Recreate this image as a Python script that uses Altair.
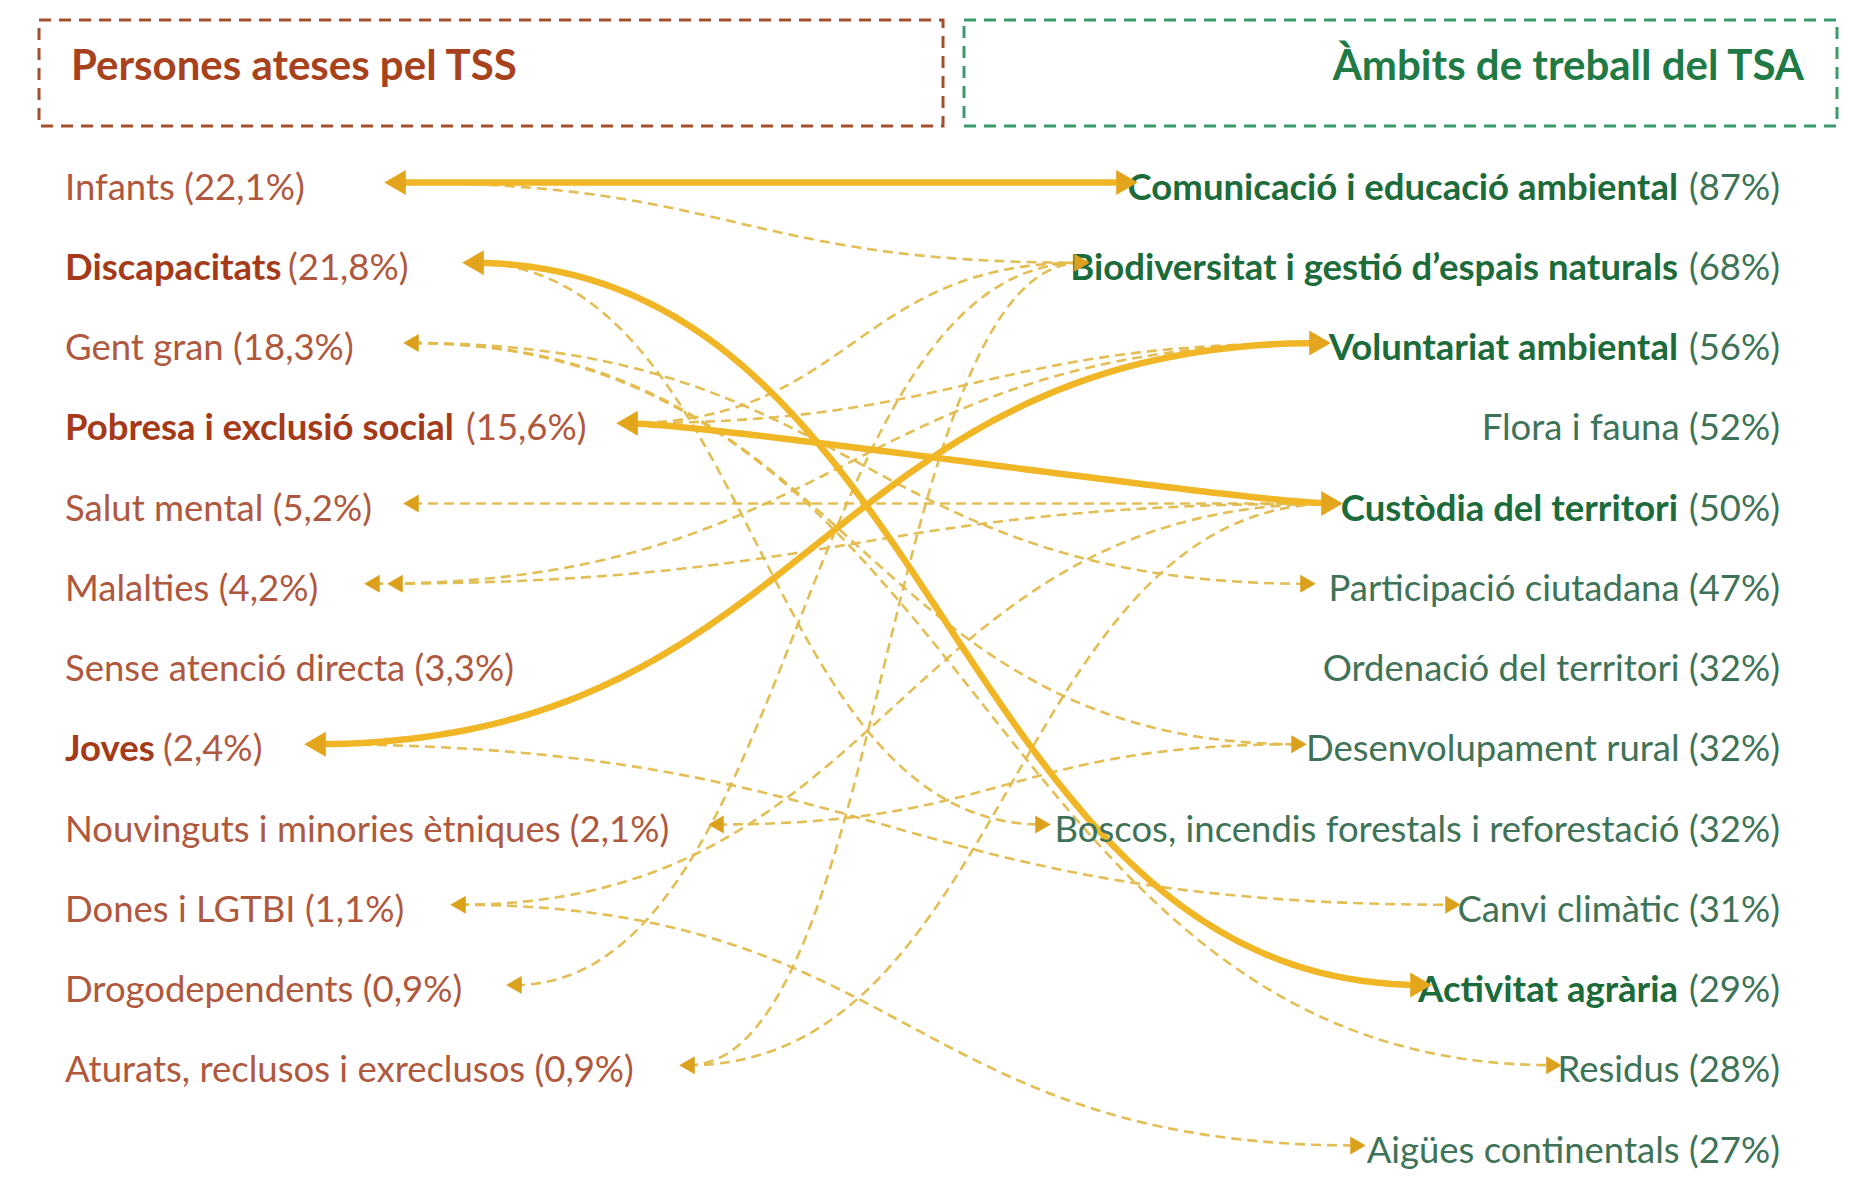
import altair as alt
import pandas as pd
import numpy as np

# ---------------- data ----------------
left_names = ["Infants", "Discapacitats", "Gent gran", "Pobresa i exclusió social",
              "Salut mental", "Malalties", "Sense atenció directa", "Joves",
              "Nouvinguts i minories ètniques", "Dones i LGTBI", "Drogodependents",
              "Aturats, reclusos i exreclusos"]
left_pct = ["22,1", "21,8", "18,3", "15,6", "5,2", "4,2", "3,3", "2,4", "2,1", "1,1", "0,9", "0,9"]
left_bold = [False, True, False, True, False, False, False, True, False, False, False, False]

right_names = ["Comunicació i educació ambiental", "Biodiversitat i gestió d’espais naturals",
               "Voluntariat ambiental", "Flora i fauna", "Custòdia del territori",
               "Participació ciutadana", "Ordenació del territori", "Desenvolupament rural",
               "Boscos, incendis forestals i reforestació", "Canvi climàtic",
               "Activitat agrària", "Residus", "Aigües continentals"]
right_pct = [87, 68, 56, 52, 50, 47, 32, 32, 32, 31, 29, 28, 27]
right_bold = [True, True, True, False, True, False, False, False, False, False, True, False, False]

# links: (left index, right index)
solid_links = [(0, 0), (1, 10), (3, 4), (7, 2)]
dashed_links = [(0, 1), (1, 8), (2, 5), (2, 7), (2, 11), (3, 1), (3, 2), (4, 4),
                (5, 4), (5, 2), (7, 2), (7, 9), (8, 7), (9, 4), (9, 12),
                (10, 1), (11, 1), (11, 4)]

title_left = "Persones ateses pel TSS"
title_right = "Àmbits de treball del TSA"

# ---------------- layout ----------------
ROW0, STEP = 188.5, 80.25
LX, RX = 65, 1780
left_tip = [383, 461, 402, 615, 402, 363, None, 303, 707, 449, 505, 678]
right_tip = [1139, 1091, 1332, None, 1344, 1317, None, 1308, 1052, 1462, 1433, 1563, 1367]
left_paren_x = {1: 288, 3: 466, 7: 163}
right_bold_end = 1678
solid_k = {(3, 4): 0.12}

def row_y(i):
    return ROW0 + STEP * i

def bezier(x0, y0, x3, y3, k=0.5, n=90):
    dx = x3 - x0
    x1, y1 = x0 + k * dx, y0
    x2, y2 = x3 - k * dx, y3
    t = np.linspace(0, 1, n)
    x = (1-t)**3*x0 + 3*(1-t)**2*t*x1 + 3*(1-t)*t**2*x2 + t**3*x3
    y = (1-t)**3*y0 + 3*(1-t)**2*t*y1 + 3*(1-t)*t**2*y2 + t**3*y3
    return x, y

rows = []
for kind, links in (("solid", solid_links), ("dashed", dashed_links)):
    for j, (a, b) in enumerate(links):
        x0 = left_tip[a] + 10
        x3 = right_tip[b] - 10
        y0 = row_y(a) - 6
        y3 = row_y(b) - 6
        k = solid_k.get((a, b), 0.5) if kind == "solid" else 0.5
        xs, ys = bezier(x0, y0, x3, y3, k=k)
        for t, (xx, yy) in enumerate(zip(xs, ys)):
            rows.append({"id": f"{kind}{j}", "kind": kind, "t": t, "x": xx, "y": yy})
lines = pd.DataFrame(rows)

solid_left = {a for a, _ in solid_links}
solid_right = {b for _, b in solid_links}
arrows = []
for a in sorted({a for a, _ in solid_links + dashed_links}):
    big = a in solid_left
    tips = [left_tip[a]] if a != 5 else [left_tip[a], left_tip[a] + 23]
    for tp in tips:
        arrows.append({"x": tp + (12 if big else 9), "y": row_y(a) - 6,
                       "shape": "triangle-left", "big": big})
for b in sorted({b for _, b in solid_links + dashed_links}):
    big = b in solid_right
    arrows.append({"x": right_tip[b] - (12 if big else 9), "y": row_y(b) - 6,
                   "shape": "triangle-right", "big": big})
arrows = pd.DataFrame(arrows)

# text tables
lt = []
for i, (n, p, bd) in enumerate(zip(left_names, left_pct, left_bold)):
    if bd:
        lt.append({"x": LX, "y": row_y(i), "txt": n, "w": "bold", "c": "#a53a18"})
        lt.append({"x": left_paren_x[i], "y": row_y(i), "txt": f"({p}%)", "w": "normal", "c": "#b0583d"})
    else:
        lt.append({"x": LX, "y": row_y(i), "txt": f"{n} ({p}%)", "w": "normal", "c": "#b0583d"})
lt = pd.DataFrame(lt)

rt = []
for i, (n, p, bd) in enumerate(zip(right_names, right_pct, right_bold)):
    if bd:
        rt.append({"x": right_bold_end, "y": row_y(i), "txt": n, "w": "bold", "c": "#1c6b3b"})
        rt.append({"x": RX, "y": row_y(i), "txt": f"({p}%)", "w": "normal", "c": "#3e7358"})
    else:
        rt.append({"x": RX, "y": row_y(i), "txt": f"{n} ({p}%)", "w": "normal", "c": "#3e7358"})
rt = pd.DataFrame(rt)

boxes = pd.DataFrame({"x": [39, 964], "x2": [943, 1837], "y": [20, 20], "y2": [126, 126],
                      "c": ["#a5502c", "#3a9a6a"]})
titles = pd.DataFrame({"x": [71, 1804], "y": [67, 67], "txt": [title_left, title_right],
                       "c": ["#a8421c", "#1f7a45"]})

# ---------------- chart ----------------
xs = alt.Scale(domain=[8, 1856], nice=False, zero=False)
ys = alt.Scale(domain=[8, 1172], nice=False, zero=False, reverse=True)
X = lambda f="x": alt.X(f"{f}:Q", scale=xs, axis=None)
Y = lambda f="y": alt.Y(f"{f}:Q", scale=ys, axis=None)
FONT = "Lato"
FS = 36.5
TFS = 42

box_layer = alt.Chart(boxes).mark_rect(fillOpacity=0, strokeWidth=3, strokeDash=[12, 8]).encode(
    x=X(), x2="x2:Q", y=Y(), y2="y2:Q", stroke=alt.Stroke("c:N", scale=None))

title_l = alt.Chart(titles.iloc[[0]]).mark_text(align="left", baseline="middle", font=FONT,
                                                fontSize=TFS, fontWeight="bold").encode(
    x=X(), y=Y(), text="txt:N", color=alt.Color("c:N", scale=None))
title_r = alt.Chart(titles.iloc[[1]]).mark_text(align="right", baseline="middle", font=FONT,
                                                fontSize=TFS, fontWeight="bold").encode(
    x=X(), y=Y(), text="txt:N", color=alt.Color("c:N", scale=None))

dashed = alt.Chart(lines[lines.kind == "dashed"]).mark_line(
    strokeDash=[10, 6], strokeWidth=2.6, color="#e2bb4c", opacity=0.95).encode(
    x=X(), y=Y(), detail="id:N", order="t:Q")
solid = alt.Chart(lines[lines.kind == "solid"]).mark_line(
    strokeWidth=6.5, color="#f0b626", strokeCap="round").encode(
    x=X(), y=Y(), detail="id:N", order="t:Q")

arrow_big = alt.Chart(arrows[arrows.big]).mark_point(filled=True, size=620, opacity=1, color="#e3a51c").encode(
    x=X(), y=Y(), shape=alt.Shape("shape:N", scale=None))
arrow_small = alt.Chart(arrows[~arrows.big]).mark_point(filled=True, size=320, opacity=1, color="#dba01c").encode(
    x=X(), y=Y(), shape=alt.Shape("shape:N", scale=None))

def text_layer(df, align):
    layers = []
    for w in ("normal", "bold"):
        sub = df[df.w == w]
        if len(sub):
            layers.append(alt.Chart(sub).mark_text(align=align, baseline="middle", font=FONT,
                                                   fontSize=FS, fontWeight=w).encode(
                x=X(), y=Y(), text="txt:N", color=alt.Color("c:N", scale=None)))
    return layers

chart = alt.layer(
    box_layer, title_l, title_r, dashed, solid,
    *text_layer(lt, "left"), *text_layer(rt, "right"),
    arrow_small, arrow_big,
).properties(
    width=1848, height=1164, padding=0,
    autosize=alt.AutoSizeParams(type="none"),
    background="white",
).configure_view(stroke=None)

chart.save("out.html", embed_options={"renderer": "svg", "actions": False})
